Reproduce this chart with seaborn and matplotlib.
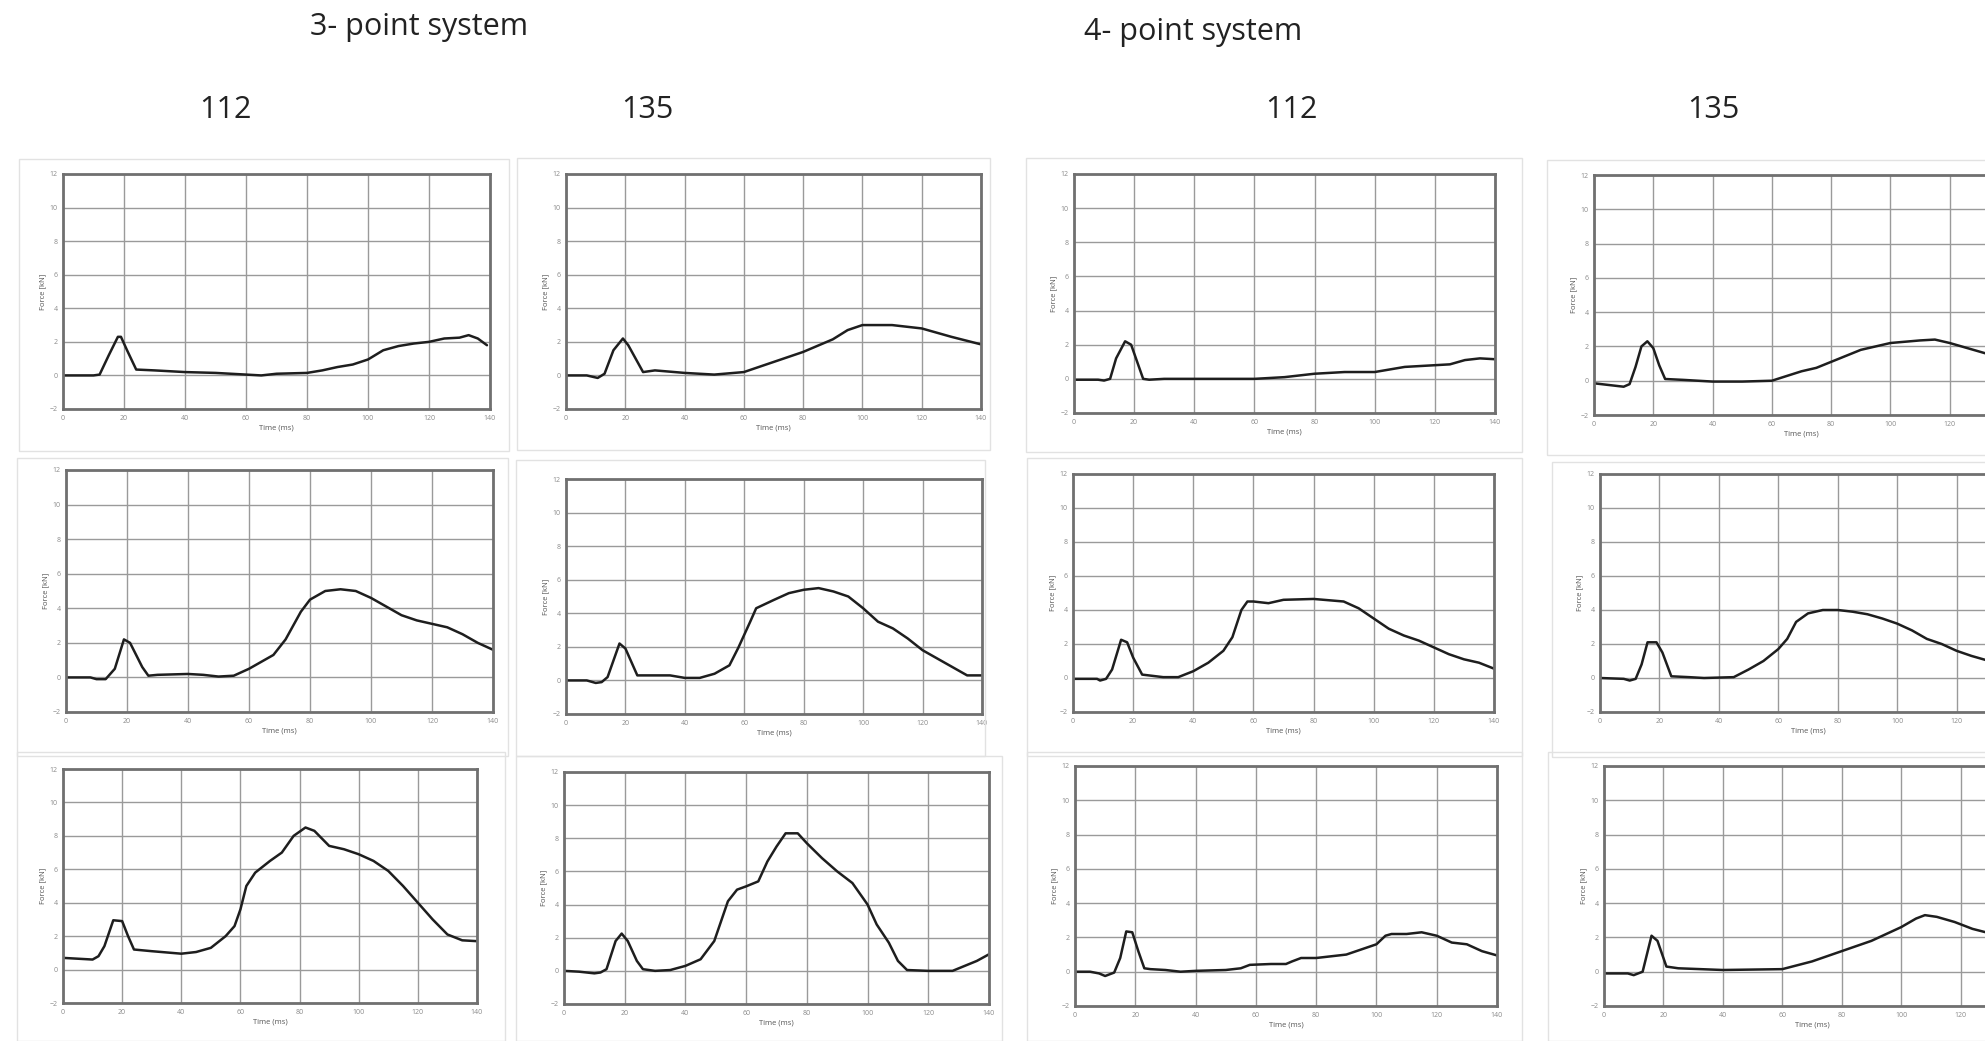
import matplotlib
matplotlib.use("Agg")
import matplotlib.pyplot as plt
import seaborn as sns
import pandas as pd
from matplotlib.patches import Rectangle

sns.set_style("white")
plt.rcParams['font.family'] = ['Open Sans', 'DejaVu Sans']

W, H = 1985, 1041

# ---- data (time in ms, force in kN) ----
t_3p_112_a = [0, 5, 10, 12, 15, 18, 19, 21, 24, 30, 40, 50, 60, 65, 70, 80, 85, 90, 95, 100, 105, 110, 115, 120, 125, 130, 133, 136, 139]
f_3p_112_a = [0, 0, 0, 0.05, 1.2, 2.3, 2.3, 1.5, 0.35, 0.3, 0.2, 0.15, 0.05, 0, 0.1, 0.15, 0.3, 0.5, 0.65, 0.95, 1.5, 1.75, 1.9, 2.0, 2.2, 2.25, 2.4, 2.2, 1.8]

t_3p_135_a = [0, 7, 10.7, 13, 16, 19.2, 21, 26, 30, 40, 50, 60, 70, 80, 90, 95, 100, 110, 120, 130, 140]
f_3p_135_a = [0, 0, -0.15, 0.1, 1.5, 2.2, 1.8, 0.2, 0.3, 0.15, 0.05, 0.2, 0.8, 1.4, 2.15, 2.7, 3.0, 3.0, 2.8, 2.3, 1.85]

t_4p_112_a = [0, 8, 10, 12, 14, 17, 19, 21, 23, 25, 30, 60, 70, 80, 90, 100, 105, 110, 120, 125, 130, 135, 140]
f_4p_112_a = [-0.05, -0.05, -0.1, 0.0, 1.2, 2.2, 2.0, 1.0, 0.0, -0.05, 0, 0, 0.1, 0.3, 0.4, 0.4, 0.55, 0.7, 0.8, 0.85, 1.1, 1.2, 1.15]

t_4p_135_a = [0, 10, 12, 14, 16, 18, 20, 22, 24, 30, 40, 50, 60, 70, 75, 80, 90, 100, 110, 115, 120, 125, 132]
f_4p_135_a = [-0.15, -0.35, -0.2, 0.8, 2.0, 2.3, 1.9, 0.9, 0.1, 0.05, -0.05, -0.05, 0, 0.55, 0.75, 1.1, 1.8, 2.2, 2.35, 2.4, 2.2, 1.95, 1.6]

t_3p_112_b = [0, 8, 10, 13, 16, 19, 21, 25, 27, 30, 40, 45, 50, 55, 60, 65, 68, 72, 77, 80, 85, 90, 95, 100, 105, 110, 115, 120, 125, 130, 135, 140]
f_3p_112_b = [0, 0, -0.1, -0.1, 0.5, 2.2, 2.0, 0.6, 0.1, 0.15, 0.2, 0.15, 0.05, 0.1, 0.5, 1.0, 1.3, 2.2, 3.8, 4.5, 5.0, 5.1, 5.0, 4.6, 4.1, 3.6, 3.3, 3.1, 2.9, 2.5, 2.0, 1.6]

t_3p_135_b = [0, 7, 10, 12, 14, 18, 20, 24, 30, 35, 40, 45, 50, 55, 58, 62, 64, 70, 75, 80, 85, 90, 95, 100, 105, 110, 115, 120, 125, 130, 135, 140]
f_3p_135_b = [0, 0, -0.15, -0.1, 0.2, 2.2, 1.9, 0.3, 0.3, 0.3, 0.15, 0.15, 0.4, 0.9, 1.95, 3.5, 4.3, 4.8, 5.2, 5.4, 5.5, 5.3, 5.0, 4.3, 3.5, 3.1, 2.5, 1.8, 1.3, 0.8, 0.3, 0.3]

t_4p_112_b = [0, 8, 9, 11, 13, 16, 18, 20, 23, 30, 35, 40, 45, 50, 53, 56, 58, 60, 65, 70, 80, 90, 95, 100, 105, 110, 115, 120, 125, 130, 135, 140]
f_4p_112_b = [-0.05, -0.05, -0.15, -0.05, 0.5, 2.25, 2.1, 1.2, 0.2, 0.05, 0.05, 0.4, 0.9, 1.6, 2.4, 4.0, 4.5, 4.5, 4.4, 4.6, 4.65, 4.5, 4.1, 3.5, 2.9, 2.5, 2.2, 1.8, 1.4, 1.1, 0.9, 0.55]

t_4p_135_b = [0, 8, 10, 12, 14, 16, 19, 21, 24, 30, 35, 45, 50, 55, 60, 63, 66, 70, 75, 80, 85, 90, 95, 100, 105, 110, 115, 120, 125, 133]
f_4p_135_b = [0, -0.05, -0.15, -0.05, 0.8, 2.1, 2.1, 1.5, 0.1, 0.05, 0, 0.05, 0.5, 1.0, 1.7, 2.3, 3.3, 3.8, 4.0, 4.0, 3.9, 3.75, 3.5, 3.2, 2.8, 2.3, 2.0, 1.6, 1.3, 0.9]

t_3p_112_c = [0, 5, 10, 12, 14, 17, 20, 22, 24, 30, 40, 45, 50, 55, 58, 60, 62, 65, 70, 74, 78, 82, 85, 90, 95, 100, 105, 110, 115, 120, 125, 130, 135, 140]
f_3p_112_c = [0.7, 0.65, 0.6, 0.8, 1.4, 2.95, 2.9, 2.0, 1.2, 1.1, 0.95, 1.05, 1.3, 2.0, 2.6, 3.6, 5.0, 5.8, 6.5, 7.0, 8.0, 8.5, 8.3, 7.4, 7.2, 6.9, 6.5, 5.9, 5.0, 4.0, 3.0, 2.1, 1.75, 1.7]

t_3p_135_c = [0, 5, 10, 12, 14, 17, 19, 21, 24, 26, 30, 35, 40, 45, 49.5, 54, 57, 60, 64, 67, 70, 73, 77, 80, 85, 90, 95, 100, 103, 107, 110, 113, 120, 128, 132, 136, 140]
f_3p_135_c = [0, -0.05, -0.15, -0.1, 0.1, 1.8, 2.25, 1.8, 0.6, 0.1, 0, 0.05, 0.3, 0.7, 1.8, 4.2, 4.9, 5.1, 5.4, 6.6, 7.5, 8.3, 8.3, 7.7, 6.8, 6.0, 5.3, 4.0, 2.8, 1.7, 0.6, 0.05, 0, 0, 0.3, 0.6, 1.0]

t_4p_112_c = [0, 5, 8, 10, 13, 15, 17, 19, 21, 23, 25, 30, 35, 40, 50, 55, 58, 65, 70, 72, 75, 80, 85, 90, 95, 100, 103, 105, 110, 115, 120, 125, 130, 135, 140]
f_4p_112_c = [0, 0, -0.1, -0.25, -0.05, 0.8, 2.35, 2.3, 1.2, 0.2, 0.15, 0.1, 0, 0.05, 0.1, 0.2, 0.4, 0.45, 0.45, 0.6, 0.8, 0.8, 0.9, 1.0, 1.3, 1.6, 2.1, 2.2, 2.2, 2.3, 2.1, 1.7, 1.6, 1.2, 0.95]

t_4p_135_c = [0, 8, 10, 13, 16, 18, 21, 25, 40, 60, 70, 80, 90, 100, 105, 108, 112, 118, 124, 133]
f_4p_135_c = [-0.1, -0.1, -0.2, 0.0, 2.1, 1.8, 0.3, 0.2, 0.1, 0.15, 0.6, 1.2, 1.8, 2.6, 3.1, 3.3, 3.2, 2.9, 2.5, 2.1]

header_labels = ["3- point system", "4- point system"]
column_labels = ["112", "135", "112", "135"]
x_ticks = list(range(0, 141, 20))
x_ticks_cut = list(range(0, 121, 20))
y_ticks = list(range(-2, 13, 2))
x_label = "Time (ms)"
y_label = "Force [kN]"

series = [
    [(t_3p_112_a, f_3p_112_a), (t_3p_135_a, f_3p_135_a), (t_4p_112_a, f_4p_112_a), (t_4p_135_a, f_4p_135_a)],
    [(t_3p_112_b, f_3p_112_b), (t_3p_135_b, f_3p_135_b), (t_4p_112_b, f_4p_112_b), (t_4p_135_b, f_4p_135_b)],
    [(t_3p_112_c, f_3p_112_c), (t_3p_135_c, f_3p_135_c), (t_4p_112_c, f_4p_112_c), (t_4p_135_c, f_4p_135_c)],
]

# axes boxes in pixels: left, top, right, bottom
boxes = [
    [(63, 174, 490, 409), (566, 174, 981, 409), (1074, 174, 1495, 413), (1594, 175, 2009, 415)],
    [(66, 470, 493, 712), (566, 479, 982, 714), (1073, 474, 1494, 712), (1600, 474, 2016, 712)],
    [(63, 769, 477, 1003), (564, 772, 989, 1004), (1075, 766, 1497, 1006), (1604, 766, 2020, 1006)],
]
# faint outer frames of each pasted chart (pixels)
frames = [
    [(19, 159, 509, 451), (517, 158, 990, 450), (1026, 158, 1522, 452), (1547, 160, 1990, 455)],
    [(17, 458, 508, 756), (516, 460, 985, 756), (1027, 458, 1522, 756), (1552, 462, 1990, 757)],
    [(17, 752, 505, 1041), (516, 756, 1002, 1041), (1027, 752, 1522, 1041), (1548, 752, 1990, 1041)],
]

fig = plt.figure(figsize=(W / 100, H / 100), dpi=100)
fig.patch.set_facecolor("white")

for r in range(3):
    for c in range(4):
        fl, ft, fr, fb = frames[r][c]
        fig.patches.append(Rectangle((fl / W, 1 - fb / H), (fr - fl) / W, (fb - ft) / H,
                                     transform=fig.transFigure, fill=False,
                                     edgecolor="#e2e2e2", lw=1.0, zorder=0))

for r in range(3):
    for c in range(4):
        l, t, rr, b = boxes[r][c]
        ax = fig.add_axes([l / W, 1 - b / H, (rr - l) / W, (b - t) / H])
        tt, ff = series[r][c]
        df = pd.DataFrame({"t": tt, "f": ff})
        sns.lineplot(data=df, x="t", y="f", ax=ax, color="#1e1e1e", lw=1.8,
                     estimator=None, sort=False)
        ax.set_xlim(0, 140)
        ax.set_ylim(-2, 12)
        ax.set_xticks(x_ticks_cut if c == 3 else x_ticks)
        ax.set_yticks(y_ticks)
        ax.tick_params(axis="both", length=0, labelsize=5, colors="#8a8a8a", pad=4)
        ax.grid(True, color="#9a9a9a", lw=1.0)
        ax.set_axisbelow(True)
        for s in ax.spines.values():
            s.set_color("#707070")
            s.set_linewidth(2.0)
        ax.set_xlabel(x_label, fontsize=5.5, color="#555555", labelpad=2)
        ax.set_ylabel(y_label, fontsize=5.5, color="#555555", labelpad=2)

# headers
fig.text(419 / W, 1 - 27 / H, header_labels[0], ha="center", va="center", fontsize=22, color="#222222")
fig.text(1193 / W, 1 - 32 / H, header_labels[1], ha="center", va="center", fontsize=22, color="#222222")
for x, lab in zip([225, 647, 1291, 1713], column_labels):
    fig.text(x / W, 1 - 110 / H, lab, ha="center", va="center", fontsize=22, color="#222222")

fig.savefig("out.png", dpi=100, facecolor="white")
